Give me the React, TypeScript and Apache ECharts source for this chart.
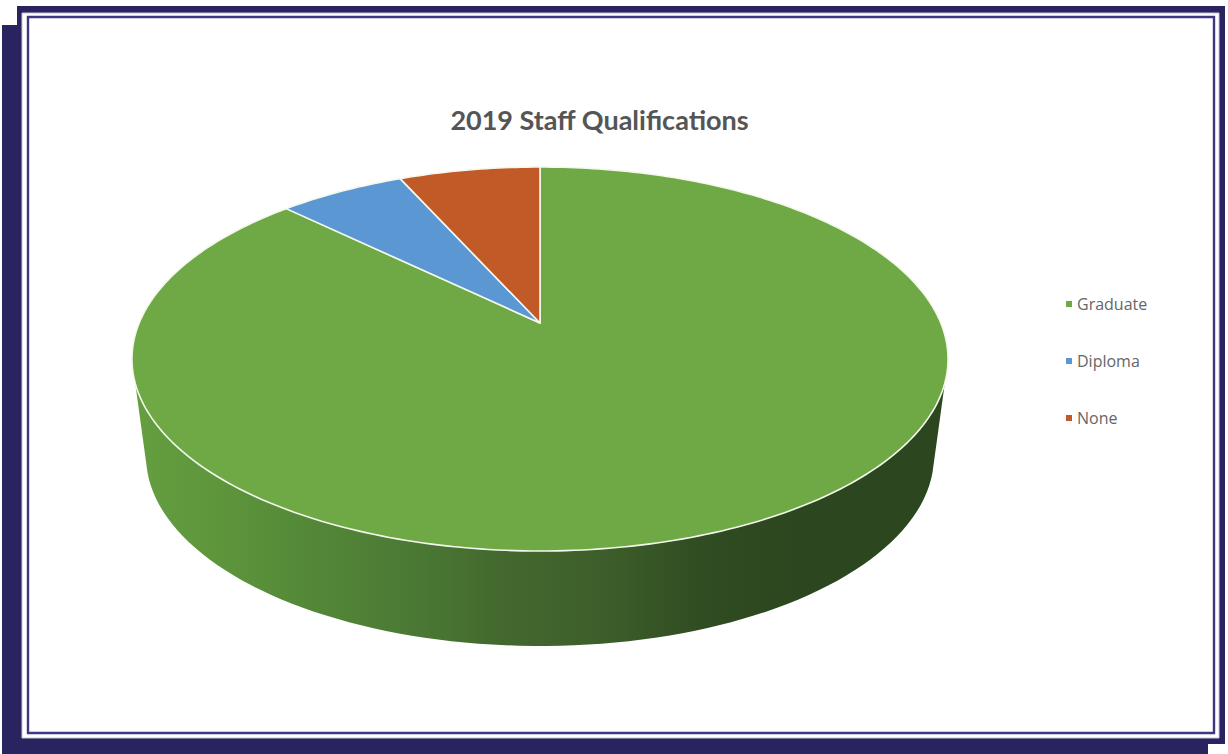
import React, { useEffect, useRef } from "react";
import * as echarts from "echarts";

const titleText = "2019 Staff Qualifications";
const categories = ["Graduate", "Diploma", "None"];
const shares = [87.3, 6.0, 6.7];
const sliceColors = ["#6FA946", "#5B97D2", "#C25A28"];

const wallStops = [
  [0, "#659F40"],
  [0.1, "#5E963C"],
  [0.2, "#558A38"],
  [0.33, "#4C7B35"],
  [0.45, "#43692E"],
  [0.58, "#3D5E2A"],
  [0.7, "#304C22"],
  [0.82, "#2C461F"],
  [1, "#2C4720"],
];

// Tilted disc: a unit circle seen in perspective, so the hub sits above the rim's middle.
const HUB_X = 540;
const HUB_Y = 323;
const SPREAD_X = 400.8;
const SPREAD_Y = 185.25;
const TILT = 0.1875;

const rimPoint = (deg: number): number[] => {
  const a = (deg * Math.PI) / 180;
  const u = Math.sin(a);
  const v = Math.cos(a);
  const w = 1 + TILT * v;
  return [HUB_X + (SPREAD_X * u) / w, HUB_Y - (SPREAD_Y * v) / w];
};

const total = shares.reduce((s, v) => s + v, 0);
const startDeg = (index: number): number =>
  (shares.slice(0, index).reduce((s, v) => s + v, 0) / total) * 360;

const sidePolygon = (): number[][] => {
  const pts: number[][] = [];
  // front of the rim, between its two widest points
  for (let d = 259; d >= 101; d -= 2) pts.push(rimPoint(d));
  // lower edge of the side wall, joined where the straight sides meet it tangentially
  for (let d = 5; d <= 175; d += 2) {
    const a = (d * Math.PI) / 180;
    pts.push([540 + 394 * Math.cos(a), 456 + 190 * Math.sin(a)]);
  }
  return pts;
};

const renderSlice = (index: number) => (_params: any, api: any) => {
  const from = startDeg(index);
  const to = from + (api.value(0) / total) * 360;
  const points: number[][] = [[HUB_X, HUB_Y]];
  for (let d = from; d < to; d += 1) points.push(rimPoint(d));
  points.push(rimPoint(to));
  const children: any[] = [];
  if (index === 0) {
    children.push({
      type: "polygon",
      shape: { points: sidePolygon() },
      style: {
        fill: new echarts.graphic.LinearGradient(
          0,
          0,
          1,
          0,
          wallStops.map(([offset, color]) => ({ offset, color }))
        ),
      },
    });
  }
  children.push({
    type: "polygon",
    shape: { points },
    style: { fill: sliceColors[index], stroke: "#F4F8EC", lineWidth: 1.6, lineJoin: "round" },
  });
  return { type: "group", children };
};

const NAVY = "#29245F";
const framePieces = [
  // heavy offset shadow on the left and bottom
  [[2, 25], [17, 25], [17, 6], [1225, 6], [1225, 744], [1208, 744], [1208, 754], [2, 754]],
];

export default function App() {
  const ref = useRef<HTMLDivElement>(null);

  useEffect(() => {
    document.body.style.margin = "0";
    document.body.style.overflow = "hidden";
    const chart = echarts.init(ref.current!, undefined, { renderer: "svg" });
    chart.setOption({
      animation: false,
      backgroundColor: "#FFFFFF",
      title: {
        text: titleText,
        left: 594.5,
        top: 101,
        textAlign: "center",
        textStyle: { fontFamily: "Lato", fontWeight: "bold", fontSize: 27, color: "#555555" },
      },
      legend: {
        orient: "vertical",
        left: 1066,
        top: 296,
        padding: 0,
        icon: "rect",
        itemWidth: 6,
        itemHeight: 6,
        itemGap: 41,
        data: categories,
        textStyle: { fontFamily: "Open Sans", fontSize: 16, color: "#666666", padding: [0, 0, 0, 0] },
      },
      graphic: [
        ...framePieces.map((points) => ({
          type: "polygon",
          z: -10,
          shape: { points },
          style: { fill: NAVY },
        })),
        { type: "rect", z: -9, shape: { x: 22, y: 13, width: 1197, height: 725 }, style: { fill: "#FFFFFF", stroke: "#C9C8DC", lineWidth: 1 } },
        { type: "rect", z: -8, shape: { x: 28, y: 17, width: 1186, height: 716 }, style: { fill: "#FFFFFF", stroke: "#3C377F", lineWidth: 2.4 } },
      ],
      series: categories.map((name, i) => ({
        type: "custom",
        name,
        coordinateSystem: "none",
        silent: true,
        itemStyle: { color: sliceColors[i] },
        data: [[shares[i]]],
        renderItem: renderSlice(i),
      })),
    });
    return () => chart.dispose();
  }, []);

  return <div ref={ref} style={{ position: "absolute", left: 0, top: 0, width: 1228, height: 754 }} />;
}
